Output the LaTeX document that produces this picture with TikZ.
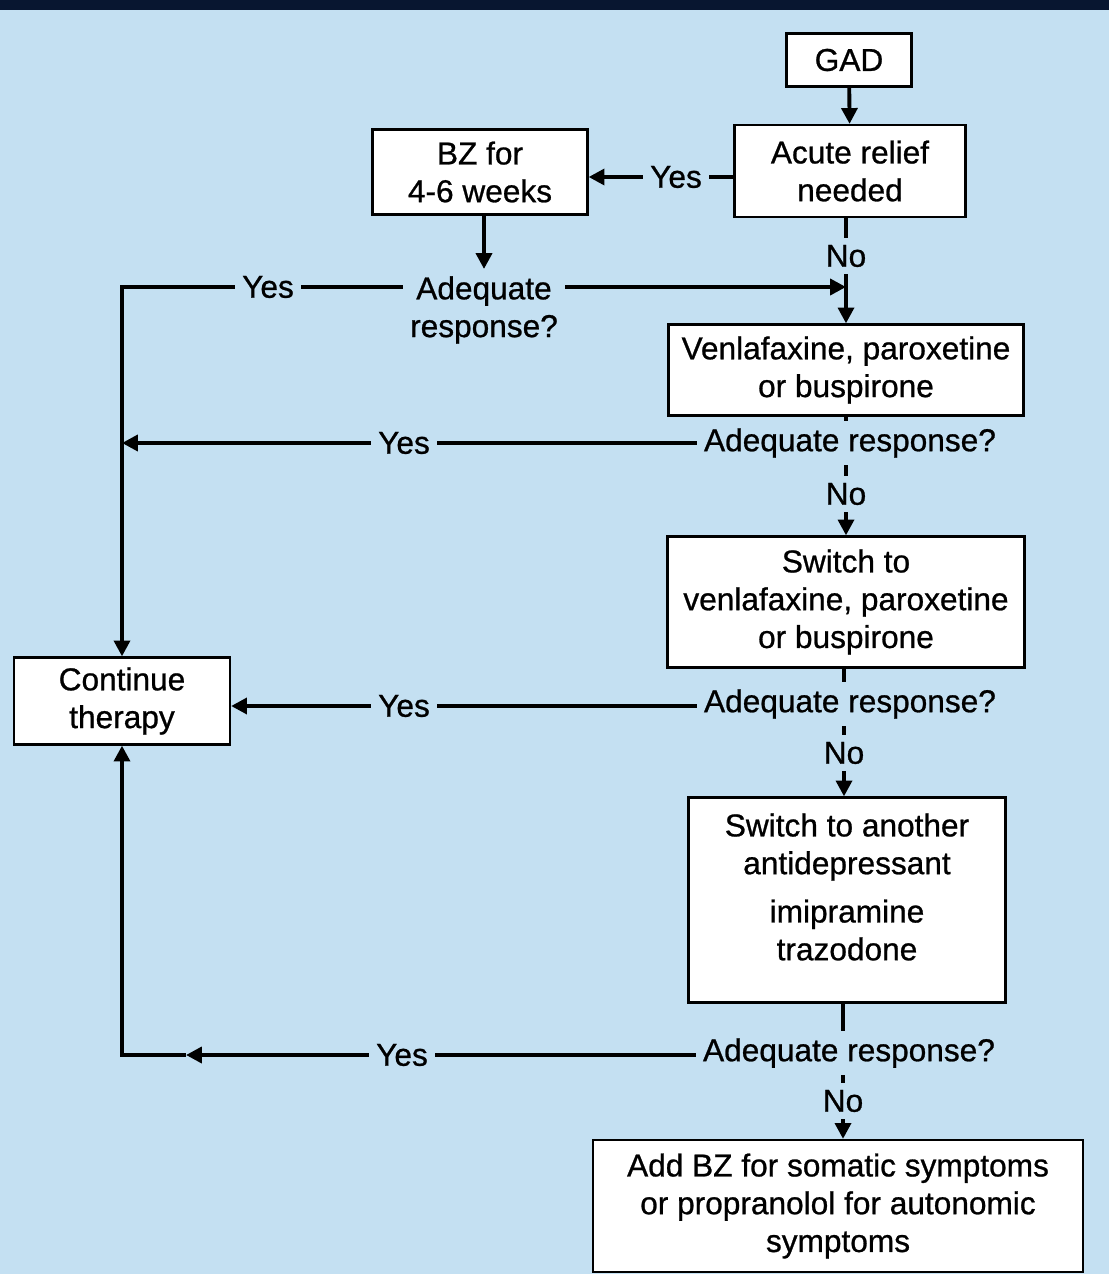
\documentclass[tikz,border=0pt]{standalone}
\usepackage{fontspec}
\setmainfont[FakeBold=0.8]{Liberation Sans}
\usetikzlibrary{arrows.meta}

\definecolor{bgblue}{RGB}{196,224,242}
\definecolor{navyband}{RGB}{8,22,48}

\begin{document}
\begin{tikzpicture}%
        [x=0.02cm, y=-0.02cm,
        every node/.style={font=\fontsize{18}{21.5}\selectfont, align=center},
        box/.style={draw=black, fill=white, line width=1.3pt, inner sep=0pt},
        txt/.style={inner sep=4pt},
        link/.style={line width=2.2pt},
        arrow/.style={line width=2.2pt, -{Triangle[length=9pt,width=9pt]}}]

    %% Background and margins
    \fill[bgblue] (0,0) rectangle (1109,1274);
    \fill[navyband] (0,0) rectangle (1109,10);
    \useasboundingbox (0,0) rectangle (1109,1274);

    %%
    %% Boxes
    %%
    \node[box, minimum width=2.5cm, minimum height=1.06cm] (gad) at (849,60) {GAD};
    \node[box, minimum width=4.62cm, minimum height=1.84cm] (acute) at (850,171) {Acute relief\\needed};
    \node[box, minimum width=4.3cm, minimum height=1.7cm] (bz) at (480,172) {BZ for\\4-6 weeks};
    \node[box, minimum width=7.1cm, minimum height=1.82cm] (venla) at (846,370) {Venlafaxine, paroxetine\\or buspirone};
    \node[box, minimum width=7.14cm, minimum height=2.62cm] (switch) at (846,602) {Switch to\\venlafaxine, paroxetine\\or buspirone};
    \node[box, minimum width=6.34cm, minimum height=4.1cm] (another) at (847,900) {};
    \node[txt] (anothertext) at (847,887) {Switch to another\\antidepressant\\[6pt]imipramine\\trazodone};
    \node[box, minimum width=9.8cm, minimum height=2.64cm] (final) at (838,1206) {Add BZ for somatic symptoms\\or propranolol for autonomic\\symptoms};
    \node[box, minimum width=4.32cm, minimum height=1.74cm] (cont) at (122,701) {Continue\\therapy};

    %%
    %% Decisions and labels
    %%
    \node[txt] (yesA) at (676,177) {Yes};
    \node[txt] (noA) at (846,256) {No};
    \node[txt] (qA) at (484,310) {Adequate\\response?};
    \node[txt] (yesB) at (268,287) {Yes};
    \node[txt] (qB) at (850,443) {Adequate response?};
    \node[txt] (yesC) at (404,443) {Yes};
    \node[txt] (noB) at (846,494) {No};
    \node[txt] (qC) at (850,704) {Adequate response?};
    \node[txt] (yesD) at (404,706) {Yes};
    \node[txt] (noC) at (844,753) {No};
    \node[txt] (qD) at (849,1053) {Adequate response?};
    \node[txt] (yesE) at (402,1055) {Yes};
    \node[txt] (noD) at (843,1101) {No};

    \coordinate (joinA) at (846,287);
    \coordinate (cornerA) at (122,287);
    \coordinate (cornerB) at (122,1055);
    \coordinate (midE) at (186,1055);

    %%
    %% Connectors
    %%
    \draw[arrow] (gad) -- (acute);
    \draw[link] (acute.west |- yesA) -- (yesA.east);
    \draw[arrow] (yesA.west) -- (bz.east |- yesA.west);
    \draw[arrow] (bz.south -| qA) -- (qA);
    \draw[link] (acute.south -| noA) -- (noA);
    \draw[arrow] (noA) -- (venla.north -| noA);
    \draw[arrow] (qA.east |- joinA) -- (joinA);
    \draw[link] (qA.west |- yesB) -- (yesB.east);
    \draw[arrow] (yesB.west) -- (cornerA) -- (cont.north -| cornerA);

    \draw[link] (venla.south -| noB) -- (qB.north -| noB);
    \draw[link] (qB.south -| noB) -- (noB);
    \draw[arrow] (noB) -- (switch.north -| noB);
    \draw[link] (qB.west) -- (yesC.east);
    \draw[arrow] (yesC.west) -- (yesC.west -| cornerA);

    \draw[link] (switch.south -| noC) -- (qC.north -| noC);
    \draw[link] (qC.south -| noC) -- (noC);
    \draw[arrow] (noC) -- (another.north -| noC);
    \draw[link] (qC.west |- yesD) -- (yesD.east);
    \draw[arrow] (yesD.west) -- (cont.east |- yesD.west);

    \draw[link] (another.south -| noD) -- (qD.north -| noD);
    \draw[link] (qD.south -| noD) -- (noD);
    \draw[arrow] (noD) -- (final.north -| noD);
    \draw[link] (qD.west |- yesE) -- (yesE.east);
    \draw[arrow] (yesE.west) -- (midE);
    \draw[arrow] (midE) -- (cornerB) -- (cont.south -| cornerB);
\end{tikzpicture}
\end{document}
